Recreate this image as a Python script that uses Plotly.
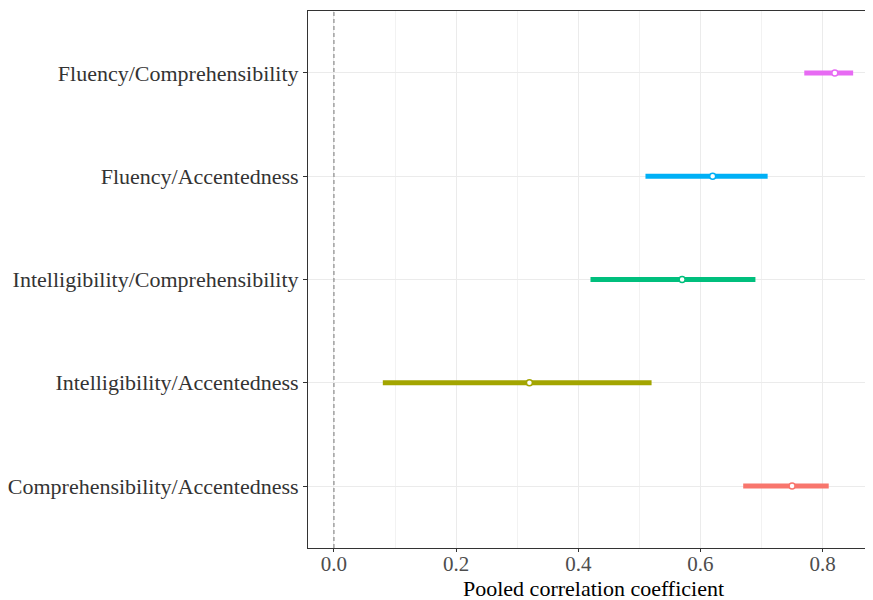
import plotly.graph_objects as go

categories = ["Comprehensibility/Accentedness", "Intelligibility/Accentedness",
              "Intelligibility/Comprehensibility", "Fluency/Accentedness",
              "Fluency/Comprehensibility"]
estimates = [0.75, 0.32, 0.57, 0.62, 0.82]
lower = [0.67, 0.08, 0.42, 0.51, 0.77]
upper = [0.81, 0.52, 0.69, 0.71, 0.85]
colors = ["#F8766D", "#A3A500", "#00BF7D", "#00B0F6", "#E76BF3"]
x_ticks = [0.0, 0.2, 0.4, 0.6, 0.8]
x_ticklabels = ["0.0", "0.2", "0.4", "0.6", "0.8"]
x_title = "Pooled correlation coefficient"

fig = go.Figure()
for cat, est, lo, hi, col in zip(categories, estimates, lower, upper, colors):
    fig.add_trace(go.Scatter(x=[lo, hi], y=[cat, cat], mode="lines",
                             line=dict(color=col, width=5), showlegend=False,
                             hoverinfo="skip"))
    fig.add_trace(go.Scatter(x=[est], y=[cat], mode="markers",
                             marker=dict(color="white", size=6,
                                         line=dict(color=col, width=1.5)),
                             showlegend=False))

fig.add_vline(x=0, line=dict(color="#555555", width=0.8, dash="4px,3px"))

font_family = "Liberation Serif, Times New Roman, serif"
fig.add_annotation(text=x_title, xref="paper", yref="paper", x=0.505, y=-0.049,
                   xanchor="center", yanchor="top", showarrow=False,
                   font=dict(size=22, color="black", family=font_family))
fig.update_layout(
    width=865, height=592,
    margin=dict(l=296, r=0, t=3, b=52),
    plot_bgcolor="white", paper_bgcolor="white",
    font=dict(family=font_family, color="#333333"),
    xaxis=dict(range=[-0.0425, 0.8825], tickvals=x_ticks, ticktext=x_ticklabels,
               showgrid=True, gridcolor="#EBEBEB", gridwidth=1,
               minor=dict(dtick=0.1, tick0=0, showgrid=True, gridcolor="#F2F2F2", gridwidth=1),
               zeroline=False, showline=True, linecolor="#333333", linewidth=1,
               mirror=True, ticks="outside", ticklen=3, tickcolor="#333333",
               ticklabelstandoff=-6,
               tickfont=dict(size=21, color="#4D4D4D", family=font_family)),
    yaxis=dict(type="category", categoryorder="array", categoryarray=categories,
               range=[-0.6, 4.6], showgrid=True, gridcolor="#EBEBEB", gridwidth=1,
               zeroline=False, showline=True, linecolor="#333333", linewidth=1,
               mirror=False, ticks="outside", ticklen=4, tickcolor="#333333",
               tickfont=dict(size=22, color="#333333", family=font_family)),
)

fig.write_html("out.html")
